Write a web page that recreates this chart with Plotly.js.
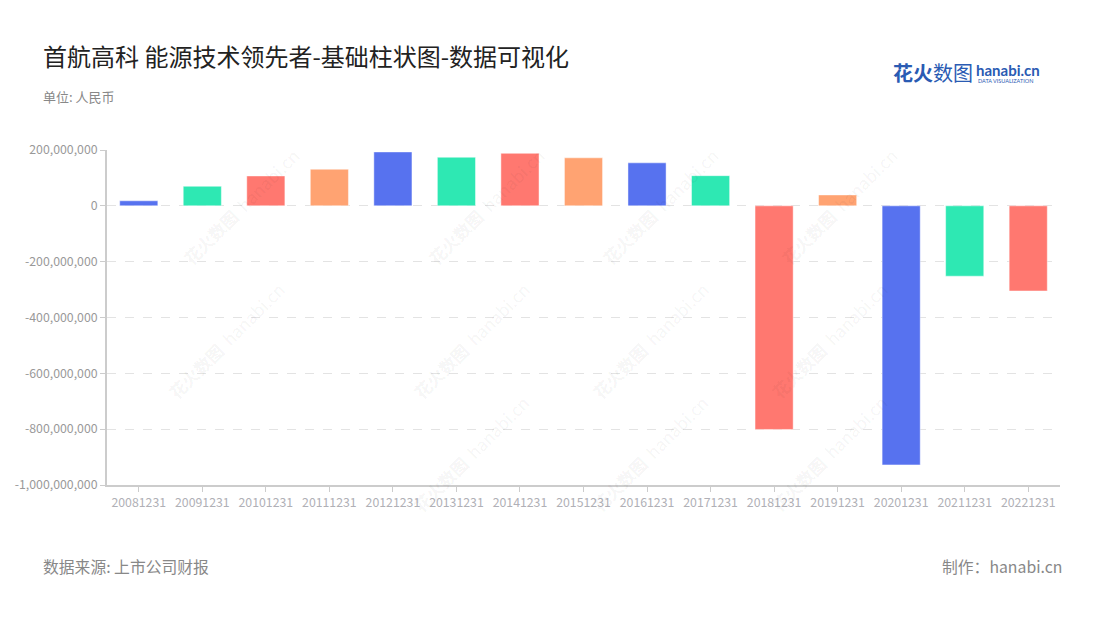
<!DOCTYPE html>
<html>
<head>
<meta charset="utf-8">
<script src="https://cdn.plot.ly/plotly-3.0.1.min.js"></script>
<style>html,body{margin:0;padding:0;background:#fff;}#chart{width:1100px;height:620px;}</style>
</head>
<body>
<div id="chart"></div>
<script>
const categories = ["20081231","20091231","20101231","20111231","20121231","20131231","20141231","20151231","20161231","20171231","20181231","20191231","20201231","20211231","20221231"];
const values = [18000000, 70000000, 107000000, 131000000, 193000000, 174000000, 188000000, 172000000, 154000000, 108000000, -801000000, 39000000, -928000000, -252000000, -305000000];
const palette = ["#5772EF", "#2EE8B3", "#FF7870", "#FFA372"];
const tickVals = [200000000, 0, -200000000, -400000000, -600000000, -800000000, -1000000000];
const tickText = ["200,000,000", "0", "-200,000,000", "-400,000,000", "-600,000,000", "-800,000,000", "-1,000,000,000"];

const FONT = '"Noto Sans CJK SC", "Noto Sans", sans-serif';
const colors = categories.map((c, i) => palette[i % palette.length]);

const trace = {
  type: 'bar',
  x: categories,
  y: values,
  marker: {color: colors, line: {color: 'rgba(255,255,255,0.45)', width: 1}},
  width: 0.6,
  hoverinfo: 'x+y'
};

const annotations = [
  {text: '首航高科 能源技术领先者-基础柱状图-数据可视化', showarrow: false, font: {size: 24, color: '#222', family: FONT}},
  {text: '单位: 人民币', showarrow: false, font: {size: 13, color: '#888', family: FONT}},
  {text: '数据来源: 上市公司财报', showarrow: false, font: {size: 15.8, color: '#888', family: FONT}},
  {text: '制作：hanabi.cn', showarrow: false, font: {size: 15.8, color: '#888', family: FONT}},
  {text: '<b>花火</b>数图', showarrow: false, font: {size: 20, color: '#2a5bb3', family: FONT}},
  {text: '<b>hanabi.cn</b>', showarrow: false, font: {size: 15, color: '#2a5bb3', family: '"Lato", sans-serif'}},
  {text: 'DATA VISUALIZATION', showarrow: false, font: {size: 5.5, color: '#2a5bb3', family: 'Lato, sans-serif'}}
];
const L = 107, R = 1060, T = 149.5, B = 485;
function px(x) { return (x - L) / (R - L); }
function py(y) { return (B - y) / (B - T); }
const pos = [
  [41, 55, 'left'], [41, 96, 'left'], [41, 567, 'left'], [1064, 567, 'right'],
  [891, 72, 'left'], [974, 69, 'left'], [976, 80, 'left']
];
annotations.forEach((a, i) => {
  a.xref = 'paper'; a.yref = 'paper';
  a.x = px(pos[i][0]); a.y = py(pos[i][1]);
  a.xanchor = pos[i][2]; a.yanchor = 'middle';
});

// faint watermarks
const wm = [[175,140],[420,140],[660,140],[905,140],[160,340],[405,340],[650,340],[895,340],[405,520],[650,520],[895,520]];
wm.forEach(p => {
  annotations.push({xref: 'paper', yref: 'paper', x: px(p[0]), y: py(p[1]), text: '<b>花火数图</b>  hanabi.cn', textangle: -45, showarrow: false, font: {size: 17, color: 'rgba(0,0,0,0.055)', family: FONT}});
});

const layout = {
  width: 1100, height: 620,
  margin: {l: L, r: 1100 - R, t: T, b: 620 - B, pad: 0},
  paper_bgcolor: '#fff', plot_bgcolor: '#fff',
  showlegend: false,
  bargap: 0.4,
  xaxis: {
    type: 'category', showgrid: false, zeroline: false,
    showline: true, linecolor: '#cccccc', linewidth: 2,
    ticks: 'outside', ticklen: 5, tickcolor: '#cccccc', tickwidth: 1,
    tickfont: {size: 12.3, color: '#b0b0b6', family: FONT},
    tickangle: 0
  },
  yaxis: {
    range: [-1000000000, 200000000], autorange: false,
    tickvals: tickVals, ticktext: tickText,
    showgrid: true, gridcolor: '#e3e3e3', griddash: 'dash', gridwidth: 1,
    zeroline: false,
    showline: true, linecolor: '#cccccc', linewidth: 2,
    ticks: 'outside', ticklen: 5, tickcolor: '#cccccc',
    tickfont: {size: 12.3, color: '#999999', family: FONT}
  },
  annotations: annotations,
  font: {family: FONT}
};

Plotly.newPlot('chart', [trace], layout, {displayModeBar: false, staticPlot: true});
</script>
</body>
</html>
